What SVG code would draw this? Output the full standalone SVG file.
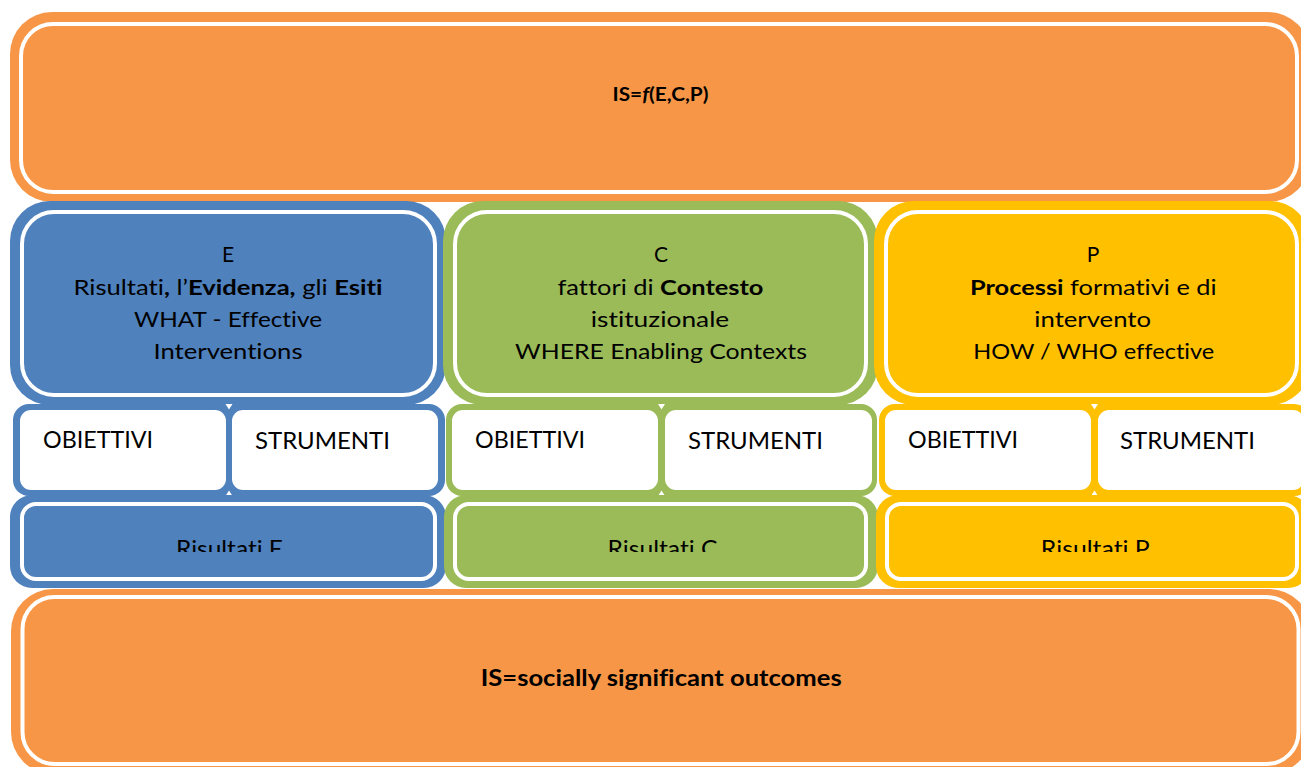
<svg xmlns="http://www.w3.org/2000/svg" width="1301" height="767" viewBox="0 0 1301 767">
<style>
text{font-family:Lato,"Liberation Sans",sans-serif;fill:#000;font-variant-ligatures:none;}
.hd{font-size:21px;text-anchor:middle;}
.cell{font-size:23.5px;}
.res{font-size:24px;text-anchor:middle;}
.b{font-weight:bold;}
.wl{fill:none;stroke:#fff;stroke-width:4;}
.or{fill:#F79646;}
.bl{fill:#4F81BD;}
.gr{fill:#9BBB59;}
.ye{fill:#FFC000;}
.wh{fill:#fff;}
</style>
<defs>
<clipPath id="resclip"><rect x="0" y="0" width="1301" height="552"/></clipPath>
</defs>
<rect width="1301" height="767" fill="#fff"/>

<g id="top">
<rect class="or" x="10" y="12" width="1300" height="190" rx="42"/>
<rect class="wl" x="21" y="24" width="1276" height="168" rx="32" style="fill:#F79646"/>
<text x="660.5" y="101" style="font-size:18px;text-anchor:middle" class="b" textLength="96" lengthAdjust="spacingAndGlyphs">IS=<tspan font-style="italic">f</tspan>(E,C,P)</text>
</g>

<g id="E">
<rect class="bl" x="10" y="201" width="436" height="204" rx="40"/>
<rect class="wl" x="22" y="212" width="413" height="183" rx="32" style="fill:#4F81BD"/>
<text class="hd" x="228" y="262">E</text>
<text class="hd" x="228" y="294.5" textLength="309" lengthAdjust="spacingAndGlyphs">Risultati<tspan class="b">,</tspan> l’<tspan class="b">Evidenza,</tspan> gli <tspan class="b">Esiti</tspan></text>
<text class="hd" x="228" y="326.5" textLength="188" lengthAdjust="spacingAndGlyphs">WHAT - Effective</text>
<text class="hd" x="228" y="358.5" textLength="149" lengthAdjust="spacingAndGlyphs">Interventions</text>
</g>

<g id="C">
<rect class="gr" x="443" y="201" width="435" height="204" rx="40"/>
<rect class="wl" x="455" y="212" width="411" height="183" rx="32" style="fill:#9BBB59"/>
<text class="hd" x="661" y="262">C</text>
<text class="hd" x="660.5" y="294.5" textLength="206" lengthAdjust="spacingAndGlyphs">fattori di <tspan class="b">Contesto</tspan></text>
<text class="hd" x="660" y="326.5" textLength="138.5" lengthAdjust="spacingAndGlyphs">istituzionale</text>
<text class="hd" x="661" y="358.5" textLength="292" lengthAdjust="spacingAndGlyphs">WHERE Enabling Contexts</text>
</g>

<g id="P">
<rect class="ye" x="874" y="201" width="436" height="204" rx="40"/>
<rect class="wl" x="886" y="212" width="411" height="183" rx="32" style="fill:#FFC000"/>
<text class="hd" x="1093" y="262">P</text>
<text class="hd" x="1093.3" y="294.5" textLength="246.7" lengthAdjust="spacingAndGlyphs"><tspan class="b">Processi</tspan> formativi e di</text>
<text class="hd" x="1092.7" y="326.5" textLength="116.7" lengthAdjust="spacingAndGlyphs">intervento</text>
<text class="hd" x="1093.8" y="358.5" textLength="241" lengthAdjust="spacingAndGlyphs">HOW / WHO effective</text>
</g>

<g id="E-mid">
<rect class="bl" x="13" y="404" width="432" height="92" rx="16"/>
<rect class="wh" x="20" y="410" width="206" height="80" rx="11"/>
<rect class="wh" x="232" y="410" width="206" height="80" rx="11"/>
<polygon class="wh" points="225.5,404 232.5,404 229,409.5"/>
<polygon class="wh" points="225.5,496 232.5,496 229,490.5"/>
<text class="cell" x="43" y="448" textLength="110" lengthAdjust="spacingAndGlyphs">OBIETTIVI</text>
<text class="cell" x="255" y="448.5" textLength="135" lengthAdjust="spacingAndGlyphs">STRUMENTI</text>
</g>

<g id="C-mid">
<rect class="gr" x="446" y="404" width="431" height="92" rx="16"/>
<rect class="wh" x="452" y="410" width="206" height="80" rx="11"/>
<rect class="wh" x="665" y="410" width="207" height="80" rx="11"/>
<polygon class="wh" points="658,404 665,404 661.5,409.5"/>
<polygon class="wh" points="658,496 665,496 661.5,490.5"/>
<text class="cell" x="475" y="447.5" textLength="110" lengthAdjust="spacingAndGlyphs">OBIETTIVI</text>
<text class="cell" x="688" y="448.5" textLength="135" lengthAdjust="spacingAndGlyphs">STRUMENTI</text>
</g>

<g id="P-mid">
<rect class="ye" x="879" y="404" width="431" height="92" rx="16"/>
<rect class="wh" x="885" y="410" width="206" height="80" rx="11"/>
<rect class="wh" x="1098" y="410" width="206" height="80" rx="11"/>
<polygon class="wh" points="1091,404 1098,404 1094.5,409.5"/>
<polygon class="wh" points="1091,496 1098,496 1094.5,490.5"/>
<text class="cell" x="908" y="448" textLength="110" lengthAdjust="spacingAndGlyphs">OBIETTIVI</text>
<text class="cell" x="1120" y="448.5" textLength="135" lengthAdjust="spacingAndGlyphs">STRUMENTI</text>
</g>

<g id="E-res">
<rect class="bl" x="10" y="495" width="436" height="93" rx="22"/>
<rect class="wl" x="22" y="504" width="413" height="75" rx="14" style="fill:#4F81BD"/>
<text class="res" x="229.5" y="557" clip-path="url(#resclip)" textLength="107" lengthAdjust="spacingAndGlyphs">Risultati E</text>
</g>

<g id="C-res">
<rect class="gr" x="444" y="495" width="434" height="93" rx="22"/>
<rect class="wl" x="455" y="504" width="411" height="75" rx="14" style="fill:#9BBB59"/>
<text class="res" x="662.5" y="557" clip-path="url(#resclip)" textLength="110" lengthAdjust="spacingAndGlyphs">Risultati C</text>
</g>

<g id="P-res">
<rect class="ye" x="876" y="495" width="434" height="93" rx="22"/>
<rect class="wl" x="887" y="504" width="410" height="75" rx="14" style="fill:#FFC000"/>
<text class="res" x="1095.3" y="557" clip-path="url(#resclip)" textLength="109" lengthAdjust="spacingAndGlyphs">Risultati P</text>
</g>

<g id="bottom">
<rect class="or" x="11" y="589" width="1300" height="185" rx="42"/>
<rect class="wl" x="22.5" y="597" width="1276" height="167" rx="32" style="fill:#F79646"/>
<text x="661.2" y="686" class="b" style="font-size:22px;text-anchor:middle" textLength="361" lengthAdjust="spacingAndGlyphs">IS=socially significant outcomes</text>
</g>

<g id="connectors"></g>
</svg>
